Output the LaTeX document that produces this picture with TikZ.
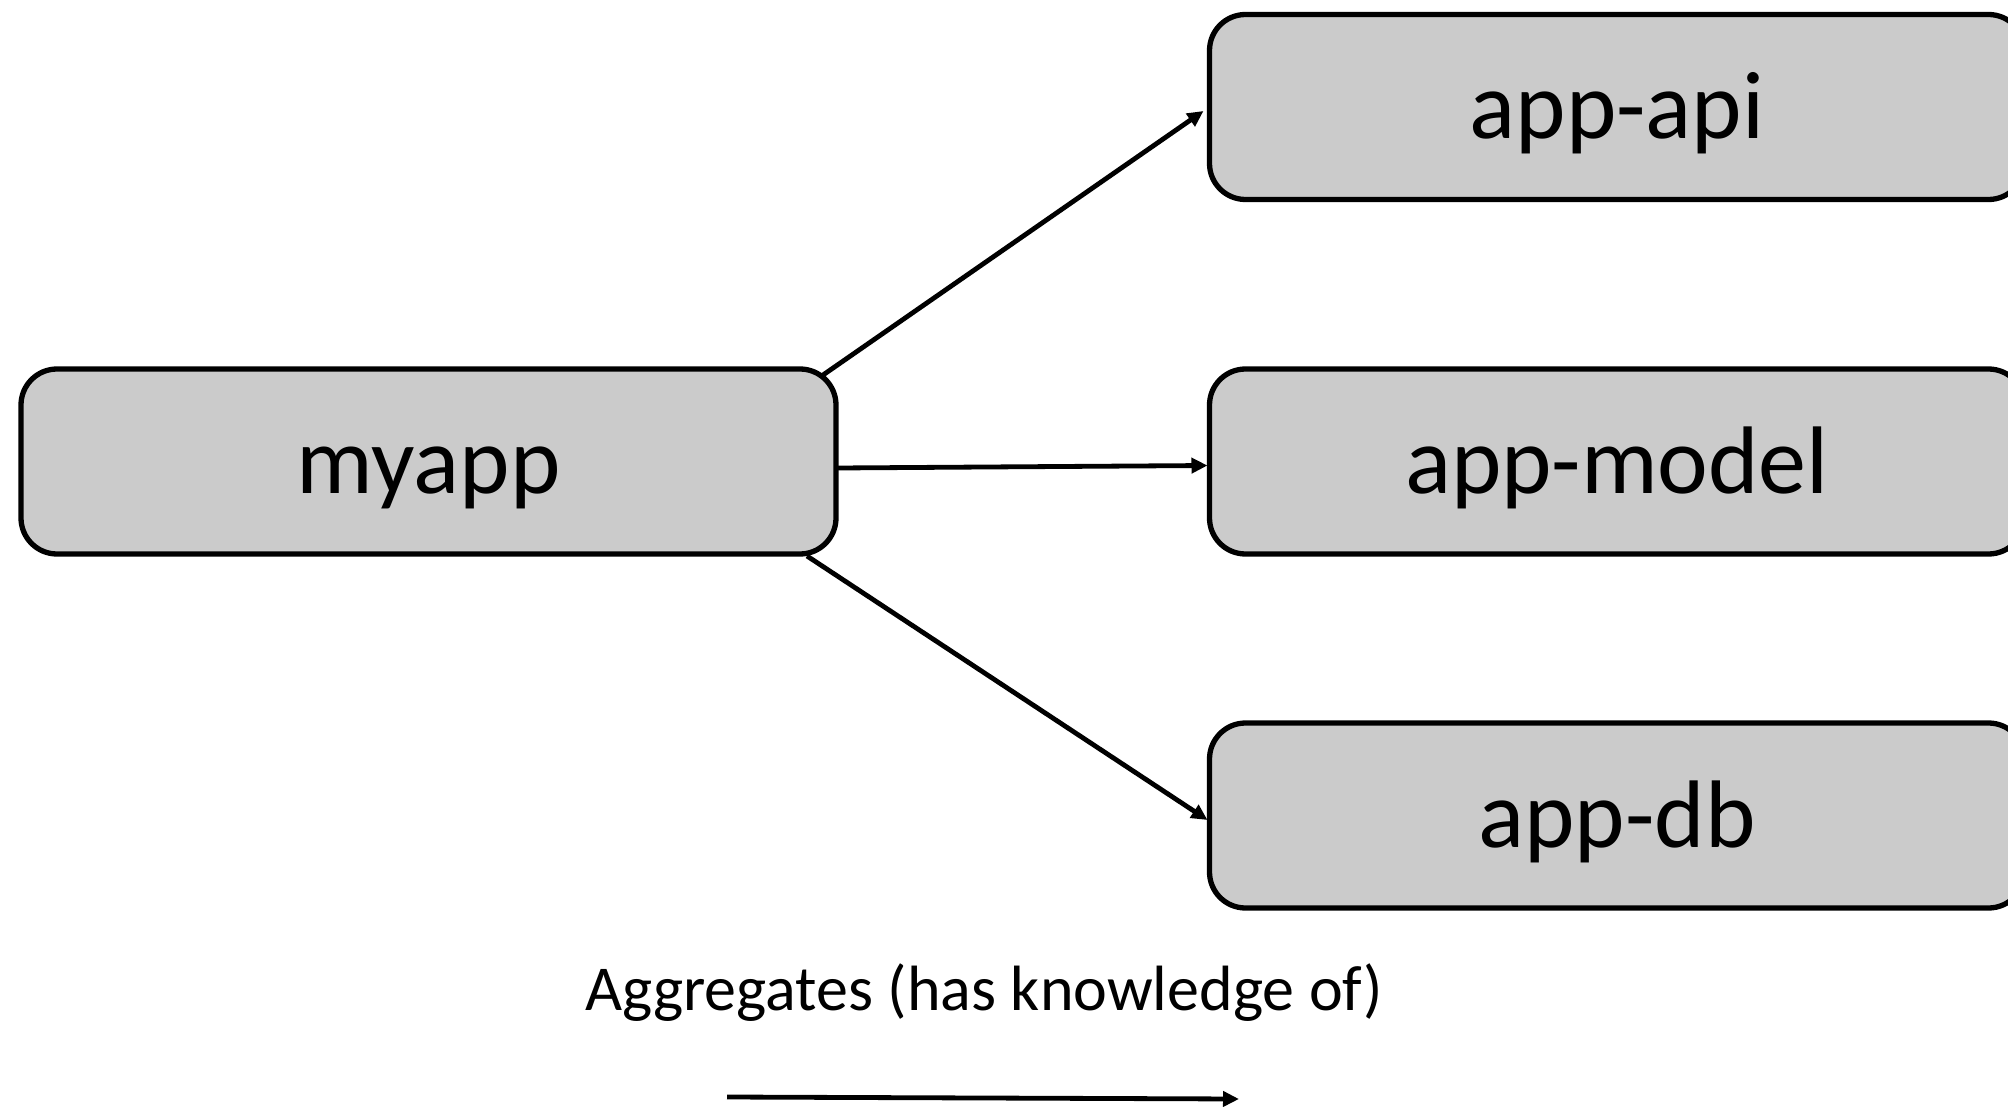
\documentclass[tikz,border=0pt]{standalone}
\usepackage{fontspec}
\setmainfont{Carlito}
\usetikzlibrary{arrows.meta,calc}
\definecolor{boxgray}{RGB}{203,203,203}
\tikzset{
  modbox/.style={draw=black, line width=5.3pt, fill=boxgray, rounded corners=36pt,
    minimum width=815pt, minimum height=185pt, inner sep=0pt, outer sep=0pt,
    text height=64pt, text depth=0pt,
    font=\fontsize{96}{110}\selectfont},
  dep/.style={line width=4.8pt, -{Triangle[length=16pt,width=15pt]}},
  caption/.style={font=\fontsize{64}{78}\selectfont, inner sep=0pt}
}
\begin{document}
\begin{tikzpicture}[x=1pt,y=-1pt]
\useasboundingbox (0,0) rectangle (2008,1107);
\node[modbox] (myapp) at (428.5,461.5) {myapp};
\node[modbox] (api)   at (1617,107) {app-api};
\node[modbox] (model) at (1617,461.5) {app-model};
\node[modbox] (db)    at (1617,815.5) {app-db};
\draw[dep] ($(myapp.north east)+(-13,6)$) -- ($(api.west)+(-6,4)$);
\draw[dep] ($(myapp.east)+(2,6.5)$) -- ($(model.west)+(-2,4)$);
\draw[dep] ($(myapp.south east)+(-29,2)$) -- ($(db.west)+(-2,4.5)$);
\node[caption, anchor=base] (cap) at (984,1010) {Aggregates (has knowledge of)};
\coordinate (legA) at (727,1097);
\coordinate (legB) at (1239,1099);
\draw[dep] (legA) -- (legB);
\end{tikzpicture}
\end{document}
